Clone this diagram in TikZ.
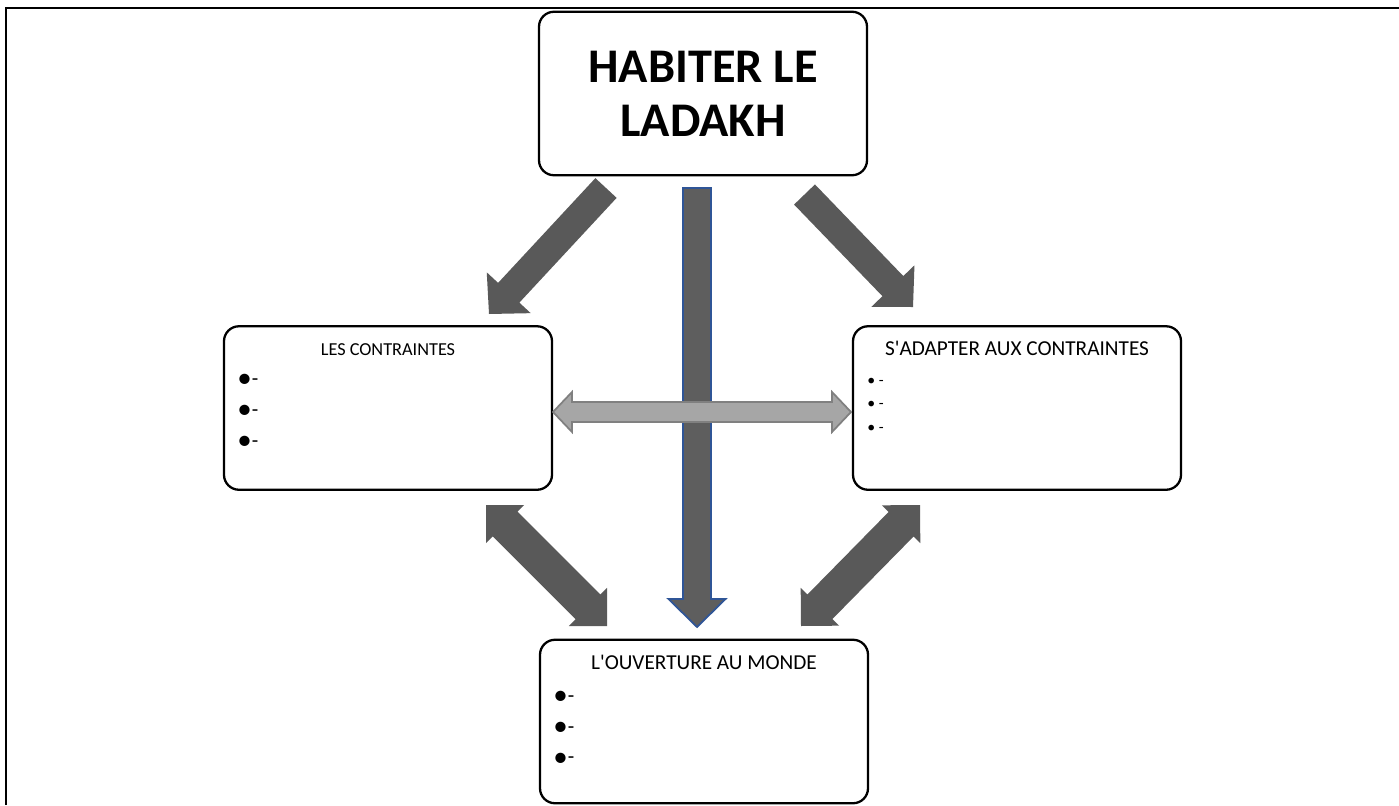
\documentclass[tikz,border=0pt]{standalone}
\usepackage{fontspec}
\setmainfont{Carlito}
\usepackage{xcolor}
\usepackage{tikz}
\usetikzlibrary{calc, positioning}

\definecolor{arrowgrey}{HTML}{595959}
\definecolor{shaftgrey}{HTML}{5E5E5E}
\definecolor{shaftblue}{HTML}{2F5597}
\definecolor{lightarrow}{HTML}{A6A6A6}
\definecolor{lightedge}{HTML}{808080}

\newcommand{\bigbullet}{\raisebox{-0.45mm}{\fontsize{16.5}{16.5}\selectfont •}}

% block arrow: style, from, to, half shaft, half head, head length
\newcommand{\blockarrow}[6]{%
	\coordinate (ba-h) at ($(#3)!#6!(#2)$);
	\path[#1] ($(#2)!#4!90:(#3)$) -- ($(ba-h)!#4!90:(#3)$) -- ($(ba-h)!#5!90:(#3)$) -- (#3)
		-- ($(ba-h)!#5!-90:(#3)$) -- ($(ba-h)!#4!-90:(#3)$) -- ($(#2)!#4!-90:(#3)$) -- cycle;
}
% same with a head at both ends
\newcommand{\doubleblockarrow}[6]{%
	\coordinate (ba-a) at ($(#2)!#6!(#3)$);
	\coordinate (ba-b) at ($(#3)!#6!(#2)$);
	\path[#1] (#2) -- ($(ba-a)!#5!90:(#3)$) -- ($(ba-a)!#4!90:(#3)$) -- ($(ba-b)!#4!90:(#3)$) -- ($(ba-b)!#5!90:(#3)$) -- (#3)
		-- ($(ba-b)!#5!-90:(#3)$) -- ($(ba-b)!#4!-90:(#3)$) -- ($(ba-a)!#4!-90:(#3)$) -- ($(ba-a)!#5!-90:(#3)$) -- cycle;
}

\begin{document}
\begin{tikzpicture}[x=0.2mm, y=-0.2mm,
box/.style={rectangle, draw=black, line width=1.3pt, rounded corners=3mm, fill=white, outer sep=0pt, minimum width=65.6mm, minimum height=32.7mm},
boxtitle/.style={anchor=base, inner sep=0pt, font=\fontsize{12.1}{14}\selectfont},
bulletlist/.style={anchor=base west, inner sep=0pt, align=left, font=\fontsize{12}{17.4}\selectfont}
]
	\useasboundingbox (0,0) rectangle (1399,805);
	\draw[line width=1.1pt] (6,805) -- (6,8) -- (1399,8);

	\node[box, align=center, font=\bfseries\fontsize{27.5}{30.7}\selectfont] (title) at (703,93.5) {HABITER LE\\LADAKH};
	\node[box, anchor=north east, shift={(13,151)}] (contraintes) at (title.south west) {};
	\node[box, anchor=north west, shift={(-14,151)}] (adapter) at (title.south east) {};
	\node[box, anchor=north west, shift={(-12,150)}] (ouverture) at (contraintes.south east) {};

	\node[boxtitle, font=\fontsize{10.4}{12}\selectfont] (contraintes-t) at ([yshift=-5.8mm]contraintes.north) {LES CONTRAINTES};
	\node[boxtitle] (adapter-t) at ([yshift=-5.8mm]adapter.north) {S\textquotesingle ADAPTER AUX CONTRAINTES};
	\node[boxtitle] (ouverture-t) at ([yshift=-6mm]ouverture.north) {L\textquotesingle OUVERTURE AU MONDE};

	% the base anchor of a list is its last line
	\node[bulletlist, font=\fontsize{12}{17.6}\selectfont] (contraintes-l) at ([shift={(13,121)}]contraintes.north west) {\bigbullet-\\\bigbullet-\\\bigbullet-};
	\node[bulletlist, font=\fontsize{9}{13.4}\selectfont] (adapter-l) at ([shift={(14,106)}]adapter.north west) {• -\\• -\\• -};
	\node[bulletlist] (ouverture-l) at ([shift={(13,124)}]ouverture.north west) {\bigbullet-\\\bigbullet-\\\bigbullet-};

	\coordinate (a1s) at (606,188);
	\coordinate (a1e) at (489,314);
	\coordinate (a2s) at (804.5,194.5);
	\coordinate (a2e) at (913,307);
	\coordinate (a3s) at (486,505);
	\coordinate (a3e) at (607,626);
	\coordinate (a4s) at (920,505);
	\coordinate (a4e) at (801,626);
	\coordinate (a5s) at (697,188);
	\coordinate (a5e) at (697,627);
	\coordinate (a6s) at (553,412);
	\coordinate (a6e) at (851,412);

	\blockarrow{fill=arrowgrey}{a1s}{a1e}{2.9mm}{6mm}{5.8mm}
	\blockarrow{fill=arrowgrey}{a2s}{a2e}{2.9mm}{6mm}{5.8mm}
	\doubleblockarrow{fill=arrowgrey}{a3s}{a3e}{3.5mm}{5.4mm}{5.4mm}
	\doubleblockarrow{fill=arrowgrey}{a4s}{a4e}{3.5mm}{5.4mm}{5.4mm}
	\blockarrow{fill=shaftgrey, draw=shaftblue, line width=1pt}{a5s}{a5e}{2.8mm}{5.7mm}{5.6mm}
	\doubleblockarrow{fill=lightarrow, draw=lightedge, line width=1pt}{a6s}{a6e}{2mm}{4mm}{3.8mm}
\end{tikzpicture}
\end{document}
